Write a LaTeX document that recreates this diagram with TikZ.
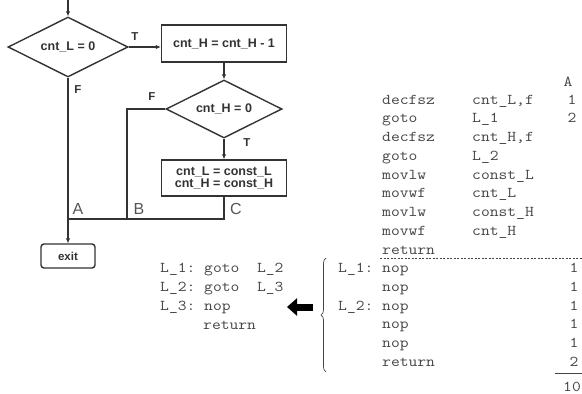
\documentclass[tikz,border=0pt]{standalone}
\usepackage{fontspec}
\setmainfont{Liberation Sans}
\setmonofont{Latin Modern Mono}[FakeStretch=1.14]
\usetikzlibrary{shapes.geometric,arrows.meta,decorations.pathreplacing}
\definecolor{linec}{HTML}{333333}
\definecolor{codec}{HTML}{444444}
\definecolor{labc}{HTML}{555555}
\begin{document}
\begin{tikzpicture}[x=1pt,y=-1pt,
  flow/.style={draw=linec, line width=1.4pt},
  arr/.style={-{Latex[length=5pt,width=4.5pt]}},
  decision/.style={flow, diamond, aspect=2, inner sep=0pt,
    font=\bfseries\fontsize{12.5}{14}\selectfont, text=linec},
  procbox/.style={flow, rectangle, inner sep=0pt, minimum width=125pt,
    font=\bfseries\fontsize{12.5}{14}\selectfont, text=linec, align=center},
  tf/.style={font=\bfseries\fontsize{11.5}{13}\selectfont, text=linec, inner sep=0pt},
  abc/.style={font=\fontsize{16}{18}\selectfont, text=labc, inner sep=0pt},
  code/.style={font=\ttfamily\fontsize{15}{17}\selectfont, text=codec,
    anchor=base west, inner sep=0pt},
  num/.style={font=\ttfamily\fontsize{15}{17}\selectfont, text=codec,
    anchor=base, inner sep=0pt}]
\useasboundingbox (0,0) rectangle (582,394);

% ---------------- flow chart ----------------
\coordinate (start) at (68,0);
\node[decision, minimum width=120pt, minimum height=60pt] (d1) at (68,47) {cnt\_L = 0};
\node[procbox, minimum height=37pt] (b1) at (224,43.5) {cnt\_H = cnt\_H - 1};
\node[decision, minimum width=116pt, minimum height=58pt] (d2) at (224,109) {cnt\_H = 0};
\node[procbox, minimum height=36pt] (b2) at (224,178)
  {cnt\_L = const\_L\\[-1.5pt]cnt\_H = const\_H};
\node[flow, rectangle, rounded corners=3pt, minimum width=54pt, minimum height=24pt,
  inner sep=0pt, font=\bfseries\fontsize{11.5}{13}\selectfont, text=linec] (exit) at (68,256) {exit};
\coordinate (jA) at (68,219);
\coordinate (jB) at (127,219);

\draw[flow,arr] (start) -- (d1.north);
\draw[flow,arr] (d1.east) -- (d1.east -| b1.west);
\draw[flow,arr] (b1.south) -- (d2.north);
\draw[flow,arr] (d2.south) -- (b2.north);
\draw[flow] (d2.west) -| (jB);
\draw[flow] (b2.south) |- (jA);
\draw[flow,arr] (d1.south) -- (exit.north);

\node[tf] (t1) at (135,37) {T};
\node[tf] (f1) at (78,90) {F};
\node[tf] (f2) at (152,97) {F};
\node[tf] (t2) at (247,143) {T};
\node[abc] (la) at (78,209) {A};
\node[abc] (lb) at (139,209) {B};
\node[abc] (lc) at (236,209) {C};

% ---------------- assembler listing ----------------
\node[num] (hA) at (568,86) {A};
\foreach \i/\op/\arg in {0/decfsz/cnt\_L{,}f, 1/goto/L\_1, 2/decfsz/cnt\_H{,}f, 3/goto/L\_2,
    4/movlw/const\_L, 5/movwf/cnt\_L, 6/movlw/const\_H, 7/movwf/cnt\_H}{
  \node[code] (op\i) at (382,{104+18.75*\i}) {\op};
  \node[code] (arg\i) at (472,{104+18.75*\i}) {\arg};
}
\node[code] (op8) at (382,254) {return};
\node[num] (n0) at (572,104) {1};
\node[num] (n1) at (572,122.75) {2};

\coordinate (dashL) at (380,258);
\coordinate (dashR) at (582,258);
\draw[codec, line width=0.8pt, dash pattern=on 2pt off 1.5pt] (dashL) -- (dashR);

% expanded delay block
\node[code] (lab1) at (338,272.5) {L\_1:};
\node[code] (lab2) at (338,310) {L\_2:};
\foreach \i/\op/\c in {0/nop/1, 1/nop/1, 2/nop/1, 3/nop/1, 4/nop/1, 5/return/2}{
  \node[code] (nop\i) at (382,{272.5+18.75*\i}) {\op};
  \node[num] (c\i) at (574,{272.5+18.75*\i}) {\c};
}
\coordinate (sumL) at (555,373);
\coordinate (sumR) at (582,373);
\draw[codec, line width=0.9pt] (sumL) -- (sumR);
\node[num] (total) at (572,391) {10};

% brace and arrow
\coordinate (brB) at (326,372);
\coordinate (brT) at (326,258);
\draw[codec, line width=0.7pt, decorate, decoration={brace, amplitude=5pt}] (brB) -- (brT);
\coordinate (arrR) at (313,307);
\coordinate (arrL) at (287,307);
\draw[black, line width=7pt, -{Triangle[length=10pt,width=17pt]}] (arrR) -- (arrL);

% equivalent short form
\node[code] (g1) at (160,272) {L\_1: goto\ \ L\_2};
\node[code] (g2) at (160,291) {L\_2: goto\ \ L\_3};
\node[code] (g3) at (160,310) {L\_3: nop};
\node[code] (g4) at (203,329) {return};
\end{tikzpicture}
\end{document}
